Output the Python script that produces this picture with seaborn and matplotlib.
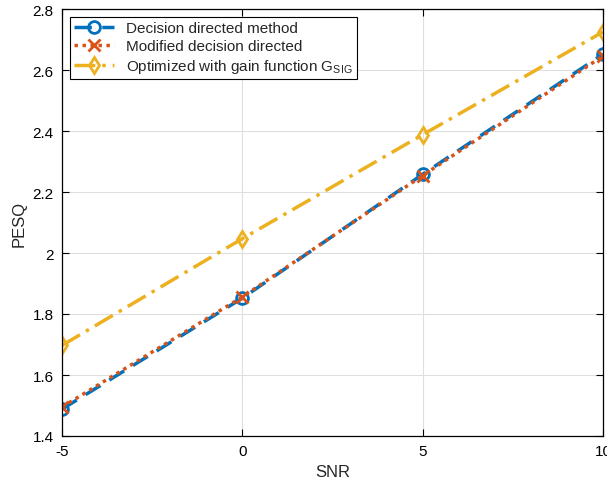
import numpy as np
import pandas as pd
import matplotlib
matplotlib.use("Agg")
import matplotlib.pyplot as plt
import seaborn as sns

snr = [-5, 0, 5, 10]
pesq_dd = [1.488, 1.852, 2.258, 2.652]
pesq_mdd = [1.495, 1.856, 2.254, 2.646]
pesq_opt = [1.697, 2.047, 2.388, 2.725]
labels = ["Decision directed method",
          "Modified decision directed",
          r"Optimized with gain function G$_{\mathrm{SIG}}$"]

sns.set_theme(style="whitegrid")
plt.rcParams["font.family"] = ["Liberation Sans", "DejaVu Sans"]
plt.rcParams["mathtext.fontset"] = "custom"
plt.rcParams["mathtext.rm"] = "Liberation Sans"
plt.rcParams["axes.unicode_minus"] = False

fig = plt.figure(figsize=(6.07, 4.89), dpi=100)
ax = fig.add_axes([62 / 607, 52 / 489, 541 / 607, 427 / 489])

colors = ["#0072BD", "#D95319", "#EDB120"]
styles = [(0, (5, 3)), (0, (1, 1.3)), (0, (6, 2, 1, 2))]
markers = ["o", "x", "d"]
for vals, lab, c, ls, m in zip([pesq_dd, pesq_mdd, pesq_opt], labels, colors, styles, markers):
    df = pd.DataFrame({"SNR": snr, "PESQ": vals})
    sns.lineplot(data=df, x="SNR", y="PESQ", ax=ax, color=c, linestyle=ls,
                 linewidth=2.5, marker=m, markersize=8.5, markeredgewidth=2,
                 markerfacecolor="none", markeredgecolor=c, label=lab)

ax.set_xlim(-5, 10)
ax.set_ylim(1.4, 2.8)
ax.set_xticks([-5, 0, 5, 10])
ax.set_yticks(np.arange(1.4, 2.81, 0.2))
ax.set_yticklabels(["1.4", "1.6", "1.8", "2", "2.2", "2.4", "2.6", "2.8"])
ax.grid(True, color="#DFDFDF", linewidth=0.8)
for s in ax.spines.values():
    s.set_color("black")
    s.set_linewidth(0.9)
ax.tick_params(direction="in", length=5, width=0.8, colors="black",
               labelsize=11, bottom=True, left=True, top=True, right=True,
               labeltop=False, labelright=False, pad=6)
ax.set_xlabel("SNR", fontsize=12)
ax.set_ylabel("PESQ", fontsize=12)

leg = ax.legend(loc="upper left", fontsize=11, frameon=True, fancybox=False,
                edgecolor="black", framealpha=1, handlelength=2.6,
                borderaxespad=0.5, labelspacing=0.25, borderpad=0.3)
leg.get_frame().set_linewidth(0.8)

fig.savefig("out.png", dpi=100)
